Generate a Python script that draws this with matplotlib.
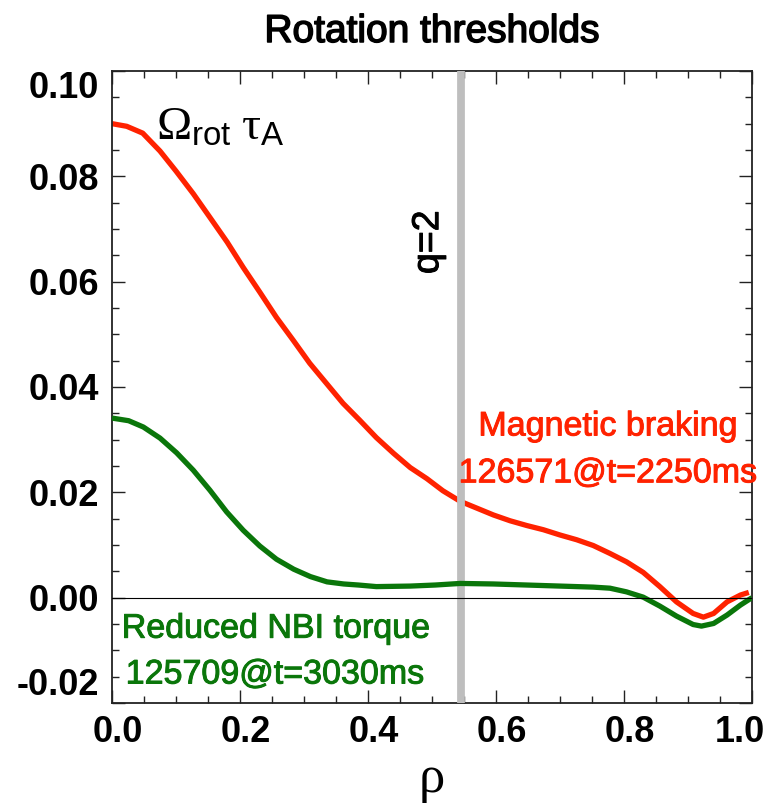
import matplotlib
matplotlib.use("Agg")
import matplotlib.pyplot as plt
import matplotlib.patheffects as pe
from matplotlib.ticker import FixedLocator, MultipleLocator, FormatStrFormatter
from matplotlib.transforms import ScaledTranslation

# ---- data ----
rho_red = [0.0, 0.023, 0.048, 0.075, 0.10, 0.127, 0.153, 0.18, 0.205, 0.231, 0.257,
           0.283, 0.309, 0.335, 0.361, 0.387, 0.413, 0.44, 0.466, 0.492, 0.517, 0.544,
           0.570, 0.596, 0.622, 0.648, 0.674, 0.700, 0.726, 0.752, 0.778, 0.804, 0.830,
           0.856, 0.882, 0.908, 0.924, 0.940, 0.961, 0.982, 0.995]
omega_red = [0.0900, 0.0895, 0.0882, 0.0848, 0.0810, 0.0767, 0.0722, 0.0675, 0.0627,
             0.0580, 0.0532, 0.0489, 0.0445, 0.0407, 0.0369, 0.0337, 0.0304, 0.0274,
             0.0247, 0.0226, 0.0203, 0.0183, 0.0170, 0.0157, 0.0146, 0.0137, 0.0129,
             0.0119, 0.0110, 0.0099, 0.0084, 0.0068, 0.0048, 0.0021, -0.0008, -0.0030,
             -0.0037, -0.0030, -0.0008, 0.0005, 0.0010]

rho_green = [0.0, 0.026, 0.049, 0.075, 0.101, 0.127, 0.153, 0.179, 0.205, 0.231, 0.257,
             0.284, 0.310, 0.336, 0.362, 0.385, 0.413, 0.466, 0.505, 0.544, 0.596, 0.648,
             0.700, 0.752, 0.778, 0.804, 0.830, 0.856, 0.882, 0.908, 0.921, 0.940, 0.961,
             0.982, 1.0]
omega_green = [0.0341, 0.0336, 0.0324, 0.0303, 0.0275, 0.0242, 0.0204, 0.0163, 0.0128,
               0.0098, 0.0073, 0.0054, 0.0040, 0.0030, 0.0026, 0.0024, 0.0021, 0.0022,
               0.0024, 0.0027, 0.0026, 0.0024, 0.0022, 0.0020, 0.0018, 0.0011, 0.0001,
               -0.0016, -0.0035, -0.0051, -0.0054, -0.0049, -0.0033, -0.0014, 0.0000]

q2_rho = 0.545
x_ticks = [0.0, 0.2, 0.4, 0.6, 0.8, 1.0]
y_ticks = [-0.02, 0.00, 0.02, 0.04, 0.06, 0.08, 0.10]

title = "Rotation thresholds"
red_label = ["Magnetic braking", "126571@t=2250ms"]
green_label = ["Reduced NBI torque", "125709@t=3030ms"]

RED = "#ff2200"
GREEN = "#0a760a"
GRAY = "#bebebe"

plt.rcParams["font.family"] = ["Liberation Sans", "DejaVu Sans"]
plt.rcParams["mathtext.fontset"] = "custom"
plt.rcParams["mathtext.rm"] = "Liberation Serif"
plt.rcParams["mathtext.it"] = "Liberation Serif"
plt.rcParams["mathtext.sf"] = "Liberation Sans"

fig = plt.figure(figsize=(7.67, 8.06), dpi=100)
ax = fig.add_axes([112/767, 1-703/806, 640/767, 632/806])

ax.plot(rho_red, omega_red, color=RED, lw=3.8, zorder=2, solid_capstyle="butt",
        solid_joinstyle="round")
ax.axvline(q2_rho, color=GRAY, lw=5.6, zorder=3)
ax.plot(rho_green, omega_green, color=GREEN, lw=3.8, zorder=4, solid_capstyle="butt",
        solid_joinstyle="round")
ax.axhline(0.0, color="black", lw=0.8, zorder=5)

ax.set_xlim(0, 1)
ax.set_ylim(-0.02, 0.10)
ax.xaxis.set_major_locator(FixedLocator(x_ticks))
ax.yaxis.set_major_locator(FixedLocator(y_ticks))
ax.xaxis.set_minor_locator(MultipleLocator(0.05))
ax.yaxis.set_minor_locator(MultipleLocator(0.005))
ax.xaxis.set_major_formatter(FormatStrFormatter("%.1f"))
ax.yaxis.set_major_formatter(FormatStrFormatter("%.2f"))
ax.tick_params(which="both", direction="in", top=True, right=True, width=1.0, color="#222222")
ax.tick_params(which="major", length=9.4, labelsize=26, pad=9)
ax.tick_params(which="minor", length=4.7)
for lab in ax.get_xticklabels() + ax.get_yticklabels():
    lab.set_fontweight("bold")
for sp in ax.spines.values():
    sp.set_linewidth(1.3)
    sp.set_color("#222222")

def stroke(c, w=0.7):
    return [pe.withStroke(linewidth=w, foreground=c)]

ax.text(0.775, 0.0308, red_label[0], color=RED, fontsize=24.5, ha="center", va="baseline",
        path_effects=stroke(RED))
ax.text(0.775, 0.0219, red_label[1], color=RED, fontsize=24.5, ha="center", va="baseline",
        path_effects=stroke(RED))
ax.text(0.256, -0.0076, green_label[0], color=GREEN, fontsize=24.5, ha="center", va="baseline",
        path_effects=stroke(GREEN))
ax.text(0.255, -0.0163, green_label[1], color=GREEN, fontsize=24.5, ha="center", va="baseline",
        path_effects=stroke(GREEN))

ax.text(0.068, 0.0869, r"$\mathrm{\Omega}_{\mathsf{rot}}\;\mathrm{\tau}_{\mathsf{A}}$", fontsize=34,
        ha="left", va="baseline", color="black")
ax.text(0.494, 0.0675, "q=2", rotation=90, fontsize=27, ha="center", va="center",
        color="black", path_effects=stroke("black"))

fig.text(432/767, 1-42/806, title, fontsize=28, ha="center", va="baseline",
         path_effects=stroke("black", 1.1))
fig.text(432/767, 1-792/806, "\u03c1", fontsize=38, ha="center", va="baseline",
         family=["Liberation Serif", "DejaVu Serif"])

# IDL-like placement of end tick labels
fig.canvas.draw()
ylabs = ax.get_yticklabels()
ylabs[0].set_va("bottom")
ylabs[-1].set_va("top")
xt = ax.xaxis.get_major_ticks()
for i, t in enumerate(xt):
    dx = -12 if i == len(xt) - 1 else 6
    t.label1.set_transform(t.label1.get_transform() + ScaledTranslation(dx/100, 0, fig.dpi_scale_trans))

fig.savefig("out.png", dpi=100)
